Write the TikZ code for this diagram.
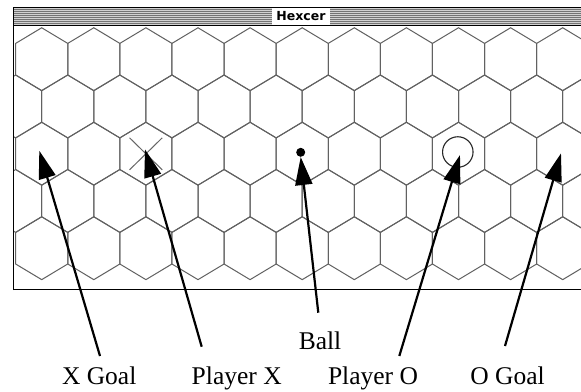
\documentclass[tikz,border=0pt]{standalone}
\usepackage{fontspec}
\setmainfont{Liberation Serif}
\newfontfamily\titlefont{DejaVu Sans}
\usetikzlibrary{arrows.meta,shapes.misc}

\begin{document}
\begin{tikzpicture}[x=1pt,y=-1pt,
  hexline/.style={draw=black!62, line width=1pt},
  frameline/.style={draw=black, line width=1.3pt},
  pointer/.style={draw=black, line width=2.2pt, -{Triangle[length=28pt,width=17pt]}},
  caption/.style={font=\fontsize{25.5}{30}\selectfont, inner sep=0pt, anchor=base},
  crossmark/.style={cross out, draw=black!60, line width=1pt, minimum width=31.7pt, minimum height=31pt, inner sep=0pt},
  ballmark/.style={circle, fill=black, minimum size=9pt, inner sep=0pt},
  ringmark/.style={circle, draw=black!85, line width=1.1pt, minimum size=30.5pt, inner sep=0pt},
]
\useasboundingbox[fill=white] (0,0) rectangle (581,391);

% title bar with stripes
\fill[black!18] (14,8.2) rectangle (581,24.8);
\foreach \y in {9.2,11.2,...,23.2}
  \draw[black!55, line width=0.9pt] (14,\y) -- (581,\y);
\node[font=\titlefont\bfseries\fontsize{12.5}{14}\selectfont, fill=white,
      inner xsep=4.5pt, inner ysep=0pt, minimum height=16.4pt] (title) at (301,16.5) {Hexcer};

% hexagonal playing field
\begin{scope}
  \clip (13.3,25.6) rectangle (581,289.5);
  \foreach \r in {0,...,4}{
    \pgfmathsetmacro\cy{59.2+47.25*\r}
    \pgfmathsetmacro\off{mod(\r,2)==0 ? 41.7 : 15.65}
    \foreach \k in {0,...,11}{
      \pgfmathsetmacro\cx{\off+52.1*\k}
      \draw[hexline] (\cx,\cy-31.45) -- ++(26.05,15.65) -- ++(0,31.6)
        -- ++(-26.05,15.65) -- ++(-26.05,-15.65) -- ++(0,-31.6) -- cycle;
    }
  }
\end{scope}

% window frame
\draw[frameline] (13.3,290) -- (13.3,7.3) -- (581,7.3);
\draw[draw=black, line width=1pt] (13.3,25.4) -- (581,25.4);
\draw[frameline] (13.3,289.8) -- (581,289.8);

% pieces on the field
\node[crossmark] (px) at (145.9,153.8) {};
\node[ballmark] (ball) at (300.7,152.3) {};
\node[ringmark] (po) at (457.8,152) {};

% arrow tips
\coordinate (xgoaltip) at (39.3,150.7);
\coordinate (pxtip) at (145,149.3);
\coordinate (potip) at (460,155);
\coordinate (ogoaltip) at (561,153.3);

% captions
\node[caption] (xgoal) at (99.2,384) {X Goal};
\node[caption] (playerx) at (236.7,384) {Player X};
\node[caption] (balllabel) at (320,349) {Ball};
\node[caption] (playero) at (373,384) {Player O};
\node[caption] (ogoal) at (507.5,384) {O Goal};

% arrow tails above the captions
\coordinate (xgoaltail) at (100,356);
\coordinate (pxtail) at (201.7,346.7);
\coordinate (balltail) at (318.3,312.7);
\coordinate (potail) at (399.3,356);
\coordinate (ogoaltail) at (505,346);

% pointers
\draw[pointer] (xgoaltail) -- (xgoaltip);
\draw[pointer] (pxtail) -- (pxtip);
\draw[pointer] (balltail) -- (ball.south);
\draw[pointer] (potail) -- (potip);
\draw[pointer] (ogoaltail) -- (ogoaltip);
\end{tikzpicture}
\end{document}
